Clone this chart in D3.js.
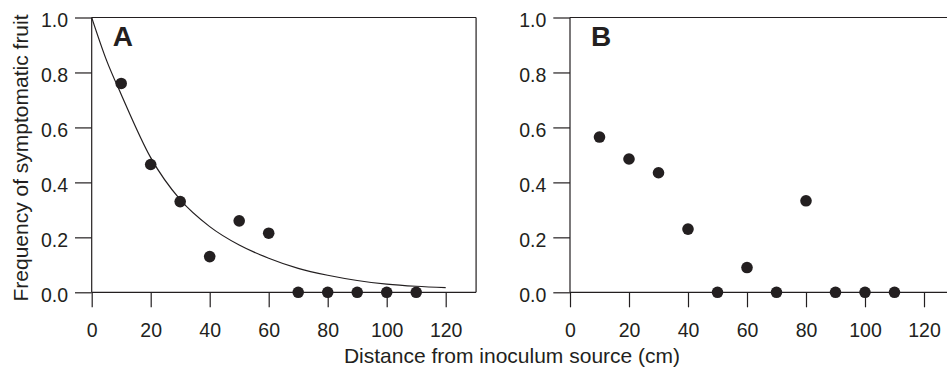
<!DOCTYPE html>
<html lang="en">
	<head>
		<meta charset="utf-8">
		<title></title>
		<script type="text/javascript" src="https://cdn.jsdelivr.net/npm/d3@7"></script>
		<style type="text/css">
			body { margin: 0; background: #fff; }
			text { font-family: "Liberation Sans", Arial, sans-serif; fill: #231f20; }
		</style>
	</head>
	<body>
		<script type="text/javascript">

			//Width and height
			var w = 947;
			var h = 368;

			// data
			var distances = [10, 20, 30, 40, 50, 60, 70, 80, 90, 100, 110];
			var freqA = [0.76, 0.465, 0.33, 0.13, 0.26, 0.215, 0, 0, 0, 0, 0];
			var freqB = [0.565, 0.485, 0.435, 0.23, 0, 0.09, 0, 0.333, 0, 0, 0];

			// fitted curve in panel A
			var curveX = [0, 5, 10, 20, 30, 40, 50, 60, 70, 80, 90, 100, 110, 120];
			var curveY = [1.0, 0.845, 0.72, 0.49, 0.337, 0.239, 0.172, 0.124, 0.087, 0.062, 0.043, 0.03, 0.022, 0.017];

			var xTicks = [0, 20, 40, 60, 80, 100, 120];
			var yTicks = [0, 0.2, 0.4, 0.6, 0.8, 1.0];
			var panelLetters = ["A", "B"];
			var xTitle = "Distance from inoculum source (cm)";
			var yTitle = "Frequency of symptomatic fruit";

			var ink = "#231f20";
			var plotTop = 17.5, plotBottom = 292.3;
			var panelLeft = [91.7, 570];
			var xMax = 130.3;  // where the right border sits

			let svg = d3.select("body")
						.append("svg")
						.attr("width", w)
						.attr("height", h);

			var yScale = d3.scaleLinear()
				.domain([0, 1])
				.range([plotBottom, plotTop]);

			function makePanel(i, values, curve){
				var x0 = panelLeft[i];
				var xScale = d3.scaleLinear()
					.domain([0, 120])
					.range([x0, x0 + 354]);

				let g = svg.append("g");

				// frame: top, right and bottom (0.0) lines
				g.append("line")
					.attr("x1", x0).attr("x2", xScale(xMax))
					.attr("y1", yScale(1)).attr("y2", yScale(1))
					.attr("stroke", ink).attr("stroke-width", 1.2);
				g.append("line")
					.attr("x1", xScale(xMax)).attr("x2", xScale(xMax))
					.attr("y1", yScale(1)).attr("y2", yScale(0))
					.attr("stroke", ink).attr("stroke-width", 1.2);
				g.append("line")
					.attr("x1", x0).attr("x2", xScale(xMax))
					.attr("y1", yScale(0)).attr("y2", yScale(0))
					.attr("stroke", ink).attr("stroke-width", 1.2);

				let yAxis = d3.axisLeft(yScale)
					.tickValues(yTicks)
					.tickFormat(d3.format(".1f"))
					.tickSize(16.7)
					.tickPadding(7);

				let xAxis = d3.axisBottom(xScale)
					.tickValues(xTicks)
					.tickFormat(d3.format("d"))
					.tickSize(15)
					.tickPadding(16);

				let ya = g.append("g")
					.attr("transform", "translate(" + x0 + ",0)")
					.call(yAxis);
				let xa = g.append("g")
					.attr("transform", "translate(0," + plotBottom + ")")
					.call(xAxis);

				[ya, xa].forEach(function(a){
					a.select(".domain").remove();
					a.selectAll("line").attr("stroke", ink).attr("stroke-width", 1.2);
					a.selectAll("text")
						.style("font-size", "19.5px")
						.attr("fill", ink);
				});
				ya.selectAll("text").attr("dy", "0.45em");
				// left axis line
				g.append("line")
					.attr("x1", x0).attr("x2", x0)
					.attr("y1", yScale(1)).attr("y2", yScale(0))
					.attr("stroke", ink).attr("stroke-width", 1.2);

				if (curve) {
					var line = d3.line()
						.x(function(d, j) { return xScale(curveX[j]); })
						.y(function(d) { return yScale(d); })
						.curve(d3.curveMonotoneX);
					g.append("path")
						.attr("d", line(curveY))
						.attr("fill", "none")
						.attr("stroke", ink)
						.attr("stroke-width", 1.2);
				}

				g.selectAll("circle")
					.data(values)
					.enter()
					.append("circle")
					.attr("cx", function(d, j) { return xScale(distances[j]); })
					.attr("cy", function(d) { return yScale(d); })
					.attr("r", 5.8)
					.attr("fill", ink);

				g.append("text")
					.attr("x", x0 + 21)
					.attr("y", 45.5)
					.style("font-size", "28px")
					.style("font-weight", "bold")
					.text(panelLetters[i]);
			}

			makePanel(0, freqA, true);
			makePanel(1, freqB, false);

			svg.append("text")
				.attr("x", 512)
				.attr("y", 363)
				.attr("text-anchor", "middle")
				.style("font-size", "21px")
				.text(xTitle);

			svg.append("text")
				.attr("transform", "translate(28,158) rotate(-90)")
				.attr("text-anchor", "middle")
				.style("font-size", "21px")
				.text(yTitle);

		</script>
	</body>
</html>
